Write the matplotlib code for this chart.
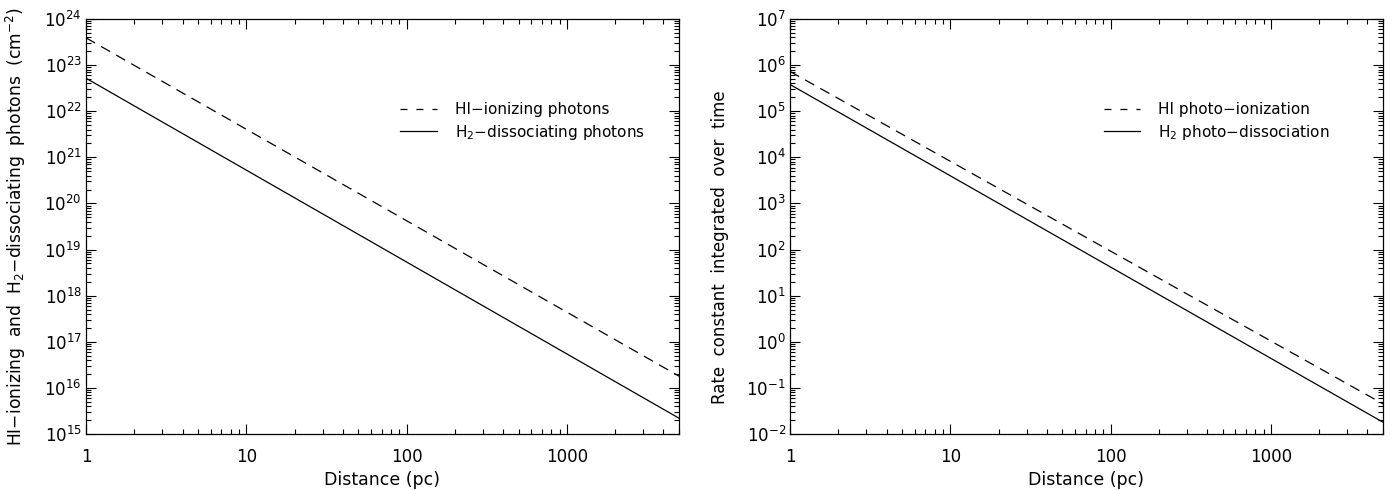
import matplotlib
matplotlib.use("Agg")
import matplotlib.pyplot as plt
from matplotlib.lines import Line2D
from matplotlib.ticker import LogLocator, FixedLocator, FixedFormatter, NullFormatter

# ---- data: photons / rates vs distance (end points of the power laws) ----
distance = [1, 5000]                    # pc
hi_photons = [3.9e23, 1.8e16]           # HI-ionizing photons (cm^-2)
h2_photons = [5.2e22, 2.2e15]           # H2-dissociating photons (cm^-2)
hi_rate = [7.3e5, 4.5e-2]               # HI photo-ionization, integrated
h2_rate = [3.8e5, 1.8e-2]               # H2 photo-dissociation, integrated

x_ticks = [1, 10, 100, 1000]
x_ticklabels = ["1", "10", "100", "1000"]

plt.rcParams["font.family"] = ["DejaVu Sans"]
plt.rcParams["mathtext.default"] = "regular"
plt.rcParams["lines.scale_dashes"] = False

W, H = 1393, 490
fig = plt.figure(figsize=(W / 100, H / 100), dpi=100)

def px_axes(x0, x1, y0, y1):
    return fig.add_axes([x0 / W, 1 - y1 / H, (x1 - x0) / W, (y1 - y0) / H])

ax1 = px_axes(86, 679, 19, 434)
ax2 = px_axes(790, 1383, 19, 434)

DASH = (7.5, 5.0)
LEG_DASH = (5.0, 6.5)

def style_axes(ax, ylim, ylabel, ylab_pos, ylab_size):
    ax.set_xscale("log")
    ax.set_yscale("log")
    ax.set_xlim(1, 5000)
    ax.set_ylim(*ylim)
    ax.xaxis.set_major_locator(FixedLocator(x_ticks))
    ax.xaxis.set_major_formatter(FixedFormatter(x_ticklabels))
    ax.xaxis.set_minor_locator(LogLocator(base=10, subs=range(2, 10), numticks=20))
    ax.xaxis.set_minor_formatter(NullFormatter())
    ax.yaxis.set_major_locator(LogLocator(base=10, numticks=20))
    ax.yaxis.set_minor_locator(LogLocator(base=10, subs=range(2, 10), numticks=50))
    ax.yaxis.set_minor_formatter(NullFormatter())
    ax.tick_params(which="both", direction="in", top=True, right=True,
                   width=0.8, color="black")
    ax.tick_params(which="major", length=7.2)
    ax.tick_params(which="minor", length=3.6)
    ax.tick_params(axis="x", which="major", pad=10, labelsize=12)
    ax.tick_params(axis="y", which="major", pad=3, labelsize=12)
    for sp in ax.spines.values():
        sp.set_linewidth(0.9)
    ax.set_xlabel("Distance (pc)", fontsize=12.5, labelpad=4)
    ax.set_ylabel(ylabel, fontsize=ylab_size)
    ax.yaxis.set_label_coords(*ylab_pos)

# left: photon column densities
ax1.plot(distance, hi_photons, color="black", lw=0.9, linestyle=(0, DASH))
ax1.plot(distance, h2_photons, color="black", lw=0.9)
style_axes(ax1, (1e15, 1e24),
           "HI\u2212ionizing  and  H$_2$\u2212dissociating  photons  (cm$^{-2}$)",
           (-0.098, 0.5), 12.3)

# right: rate constants integrated over time
ax2.plot(distance, hi_rate, color="black", lw=0.9, linestyle=(0, DASH))
ax2.plot(distance, h2_rate, color="black", lw=0.9)
style_axes(ax2, (1e-2, 1e7), "Rate  constant  integrated  over  time",
           (-0.103, 0.45), 12)

def add_legend(ax, labels, x0):
    handles = [Line2D([], [], color="black", lw=0.9, linestyle=(0, LEG_DASH)),
               Line2D([], [], color="black", lw=0.9)]
    ax.legend(handles, labels, loc="upper left", bbox_to_anchor=(x0, 0.80),
              frameon=False, fontsize=11, handlelength=2.4, handletextpad=1.15,
              labelspacing=0.38, borderpad=0, borderaxespad=0)

add_legend(ax1, ["HI\u2212ionizing photons", "H$_2$\u2212dissociating photons"], 0.53)
add_legend(ax2, ["HI photo\u2212ionization", "H$_2$ photo\u2212dissociation"], 0.529)

fig.savefig("out.png", dpi=100)
